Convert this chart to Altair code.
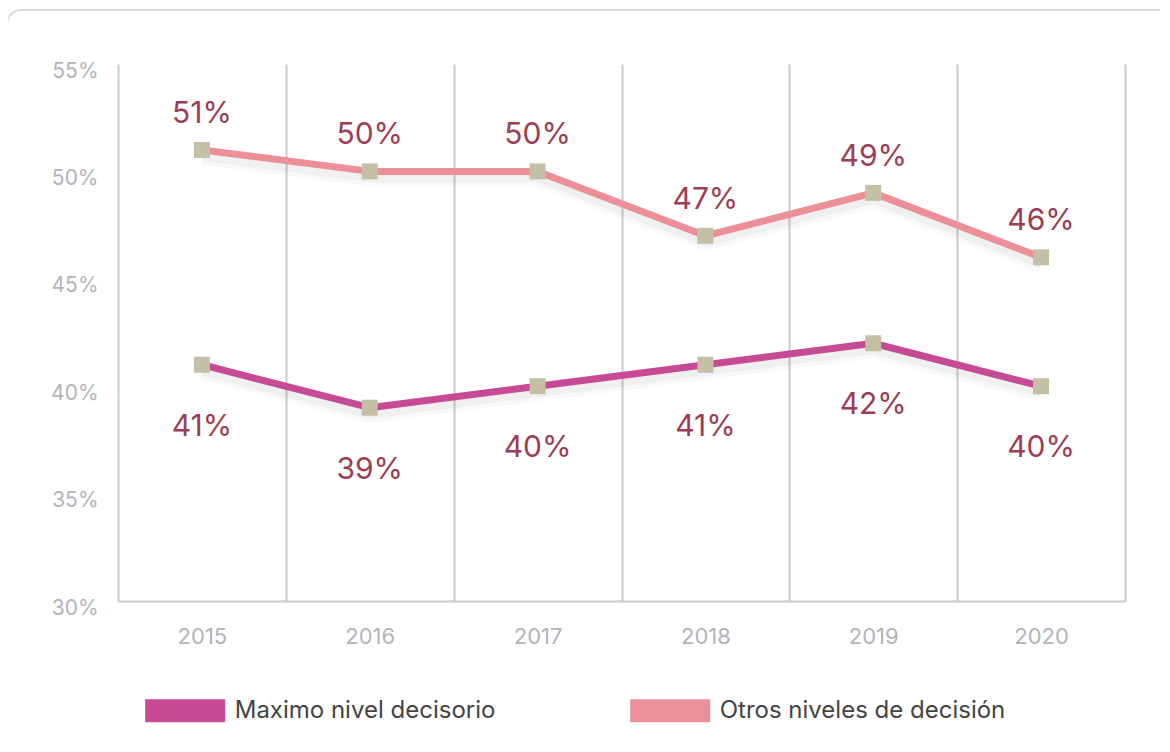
import altair as alt
import pandas as pd

years = ["2015", "2016", "2017", "2018", "2019", "2020"]
series_names = ["Maximo nivel decisorio", "Otros niveles de decisión"]
maximo = [41, 39, 40, 41, 42, 40]
otros = [51, 50, 50, 47, 49, 46]
y_ticks = [30, 35, 40, 45, 50, 55]
series_colors = ["#C64B94", "#EC8F98"]

rows = []
for name, vals in zip(series_names, [maximo, otros]):
    for yr, v in zip(years, vals):
        rows.append({"year": yr, "series": name, "value": v})
df = pd.DataFrame(rows)

FONT = "Inter"
W, H = 1007, 537

x_enc = alt.X(
    "year:N",
    sort=years,
    scale=alt.Scale(type="band", paddingInner=0, paddingOuter=0),
    axis=alt.Axis(
        title=None,
        labelAngle=0,
        labelFont=FONT,
        labelFontSize=22,
        labelColor="#b3b3bb",
        labelPadding=25,
        ticks=False,
        grid=True,
        gridColor="#cacad0",
        gridWidth=2,
        tickBand="extent",
        domain=True,
        domainColor="#cacad0",
        domainWidth=2,
    ),
)
y_enc = alt.Y(
    "value:Q",
    scale=alt.Scale(domain=[30, 55], nice=False, zero=False),
    axis=alt.Axis(
        title=None,
        values=y_ticks,
        labelExpr="datum.value + '%'",
        labelFont=FONT,
        labelFontSize=21,
        labelColor="#b3b3bb",
        labelPadding=20,
        labelOffset=7,
        ticks=False,
        grid=False,
        domain=False,
    ),
)

base = alt.Chart(df).encode(x=x_enc, y=y_enc)

card = alt.Chart(pd.DataFrame({"a": [0]})).mark_rect(
    fill="transparent", stroke="#dcdce0", strokeWidth=2, cornerRadius=14
).encode(
    x=alt.value(-111), x2=alt.value(1100), y=alt.value(-54), y2=alt.value(720)
)

shadow_wide = base.mark_line(
    strokeWidth=16, strokeJoin="round", color="#000000", opacity=0.025
).encode(detail="series:N", yOffset=alt.value(7))
shadow = base.mark_line(
    strokeWidth=10, strokeJoin="round", color="#000000", opacity=0.035
).encode(detail="series:N", yOffset=alt.value(6))

lines = base.mark_line(strokeWidth=7, strokeJoin="round").encode(
    color=alt.Color(
        "series:N",
        scale=alt.Scale(domain=series_names, range=series_colors),
        legend=alt.Legend(
            title=None,
            orient="none",
            legendX=20.7,
            legendY=600,
            direction="horizontal",
            symbolType="M-1.15,0H1.15",
            symbolSize=4844,
            symbolStrokeWidth=23,
            symbolOpacity=1,
            labelFont=FONT,
            labelFontSize=24,
            labelColor="#444444",
            labelOffset=3,
            columnPadding=88,
            padding=0,
            labelLimit=400,
        ),
    ),
    detail="series:N",
)

points = base.mark_square(size=256, color="#C5BFA5", opacity=1, filled=True)

label_color = "#9D3D55"
upper = base.transform_filter(
    alt.datum.series == series_names[1]
).transform_calculate(label="datum.value + '%'").mark_text(
    font=FONT, fontSize=30, color=label_color, dy=-36
).encode(text="label:N")

lower = base.transform_filter(
    alt.datum.series == series_names[0]
).transform_calculate(label="datum.value + '%'").mark_text(
    font=FONT, fontSize=30, color=label_color, dy=62
).encode(text="label:N")

chart = alt.layer(card, shadow_wide, shadow, lines, points, upper, lower).properties(
    width=W,
    height=H,
    autosize=alt.AutoSizeParams(type="none"),
    padding={"left": 110, "top": 56, "right": 35, "bottom": 128},
    background="white",
).configure_view(stroke=None)

chart.save("out.html", embed_options={"renderer": "svg", "actions": False})
